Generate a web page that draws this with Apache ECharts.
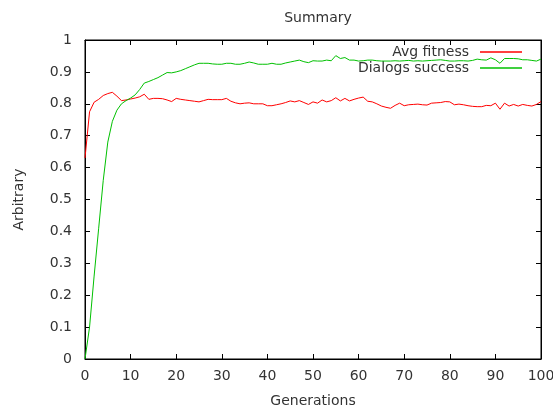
<!DOCTYPE html>
<html>
<head>
<meta charset="utf-8">
<script src="https://cdn.jsdelivr.net/npm/echarts@6/dist/echarts.min.js"></script>
<style>html,body{margin:0;padding:0;background:#fff}#c{width:553px;height:410px}</style>
</head>
<body>
<div id="c"></div>
<script>
const titleText = "Summary";
const xName = "Generations";
const yName = "Arbitrary";
const seriesNames = ["Avg fitness", "Dialogs success"];
const generations = [];
for (let g = 0; g <= 100; g++) generations.push(g);
const avgFitness = [
0.63,0.775,0.805,0.814,0.826,0.832,0.836,0.824,0.81,0.812,
0.815,0.818,0.822,0.83,0.814,0.817,0.817,0.816,0.812,0.807,
0.817,0.814,0.812,0.81,0.808,0.806,0.81,0.814,0.813,0.813,
0.813,0.817,0.808,0.803,0.8,0.802,0.803,0.8,0.8,0.8,
0.794,0.794,0.797,0.8,0.804,0.809,0.806,0.81,0.804,0.798,
0.806,0.802,0.812,0.806,0.81,0.819,0.809,0.817,0.809,0.814,
0.818,0.821,0.808,0.806,0.8,0.793,0.789,0.786,0.795,0.802,
0.794,0.797,0.798,0.799,0.797,0.796,0.802,0.803,0.804,0.807,
0.806,0.797,0.799,0.797,0.794,0.792,0.791,0.791,0.795,0.794,
0.802,0.783,0.802,0.793,0.798,0.793,0.798,0.795,0.793,0.798,
0.807];
const dialogsSuccess = [
0,0.10,0.26,0.41,0.56,0.68,0.745,0.78,0.80,0.81,
0.818,0.828,0.845,0.865,0.87,0.876,0.882,0.89,0.898,0.897,
0.90,0.904,0.91,0.916,0.922,0.927,0.927,0.927,0.925,0.924,
0.924,0.927,0.927,0.924,0.924,0.927,0.931,0.928,0.924,0.924,
0.924,0.927,0.924,0.924,0.928,0.931,0.934,0.937,0.932,0.929,
0.935,0.934,0.934,0.937,0.935,0.951,0.942,0.945,0.937,0.937,
0.934,0.935,0.937,0.937,0.935,0.934,0.934,0.934,0.935,0.934,
0.935,0.936,0.934,0.935,0.934,0.935,0.936,0.937,0.938,0.936,
0.934,0.934,0.935,0.935,0.934,0.936,0.94,0.938,0.937,0.944,
0.938,0.927,0.942,0.942,0.942,0.941,0.938,0.938,0.936,0.934,
0.94];
const xTicks = [0,10,20,30,40,50,60,70,80,90,100];
const yTicks = [0,0.1,0.2,0.3,0.4,0.5,0.6,0.7,0.8,0.9,1];

const font = "DejaVu Sans";
const textColor = "#333";
const fs = 14;
const chart = echarts.init(document.getElementById('c'), null, {renderer: 'canvas'});
const pairs = (ys) => generations.map((g, i) => [g, ys[i]]);
const tick = () => ({show: true, inside: true, length: 5, lineStyle: {color: '#000', width: 1}});
const axLine = () => ({show: true, onZero: false, lineStyle: {color: '#000', width: 1}});
const gridBox = {left: 85, right: 12, top: 40, bottom: 51, outerBoundsMode: 'none', containLabel: false};
chart.setOption({
  animation: false,
  backgroundColor: '#fff',
  title: {text: titleText, left: 313, textAlign: 'center', top: 6,
    textStyle: {fontFamily: font, fontSize: fs, fontWeight: 'normal', color: textColor}},
  grid: [
    Object.assign({show: true, borderColor: '#000', borderWidth: 1, backgroundColor: 'transparent'}, gridBox),
    Object.assign({show: false}, gridBox)
  ],
  legend: {
    data: seriesNames, orient: 'vertical', right: 31, top: 45, align: 'right', padding: 0,
    icon: 'rect', itemWidth: 42, itemHeight: 1.5, itemGap: 2,
    textStyle: {fontFamily: font, fontSize: fs, color: textColor, padding: [0, 6, 0, 0]}
  },
  xAxis: [{
    type: 'value', min: 0, max: 100, interval: 10, position: 'bottom', gridIndex: 0,
    name: xName, nameLocation: 'middle', nameGap: 35,
    nameTextStyle: {fontFamily: font, fontSize: fs, color: textColor},
    axisLine: axLine(),
    axisTick: tick(),
    axisLabel: {fontFamily: font, fontSize: fs, color: textColor, margin: 10,
      formatter: (v) => xTicks.includes(v) ? String(v) : ''},
    splitLine: {show: false}
  }, {
    type: 'value', min: 0, max: 100, interval: 10, position: 'top', gridIndex: 1,
    axisLine: axLine(),
    axisTick: tick(),
    axisLabel: {show: false}, splitLine: {show: false}
  }],
  yAxis: [{
    type: 'value', min: 0, max: 1, interval: 0.1, position: 'left', gridIndex: 0,
    name: yName, nameLocation: 'middle', nameGap: 59, nameRotate: 90,
    nameTextStyle: {fontFamily: font, fontSize: fs, color: textColor},
    axisLine: axLine(),
    axisTick: tick(),
    axisLabel: {fontFamily: font, fontSize: fs, color: textColor, margin: 13,
      formatter: (v) => { const r = Math.round(v * 10) / 10; return yTicks.includes(r) ? String(r) : ''; }},
    splitLine: {show: false}
  }, {
    type: 'value', min: 0, max: 1, interval: 0.1, position: 'right', gridIndex: 1,
    axisLine: axLine(),
    axisTick: tick(),
    axisLabel: {show: false}, splitLine: {show: false}
  }],
  series: [{
    name: seriesNames[0], type: 'line', data: pairs(avgFitness), showSymbol: false,
    xAxisIndex: 0, yAxisIndex: 0,
    color: '#ff0000', lineStyle: {color: '#ff0000', width: 1}, z: 3
  }, {
    name: seriesNames[1], type: 'line', data: pairs(dialogsSuccess), showSymbol: false,
    xAxisIndex: 0, yAxisIndex: 0,
    color: '#00c000', lineStyle: {color: '#00c000', width: 1}, z: 4
  }, {
    name: 'mirror', type: 'line', data: pairs(dialogsSuccess), xAxisIndex: 1, yAxisIndex: 1,
    showSymbol: false, silent: true, lineStyle: {opacity: 0}, z: 0
  }]
});
</script>
</body>
</html>
